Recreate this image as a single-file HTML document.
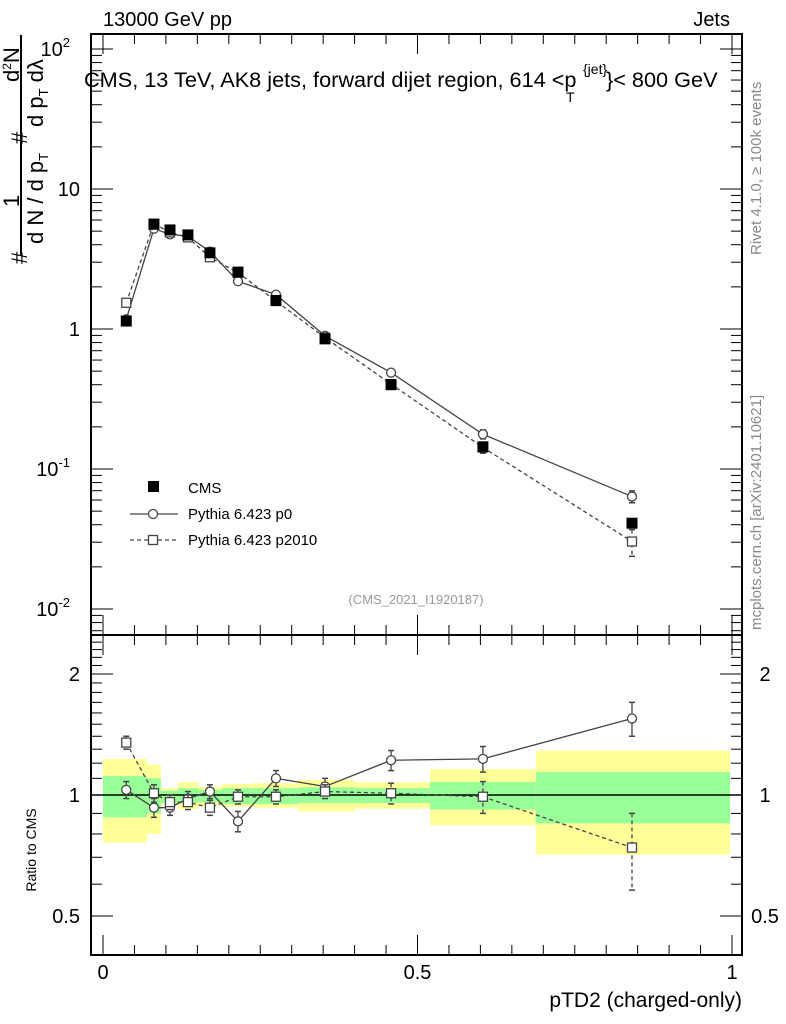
<!DOCTYPE html>
<html><head><meta charset="utf-8"><style>
body{margin:0;background:#fff;}
svg{display:block;font-family:"Liberation Sans",sans-serif;}
</style></head><body>
<svg id="c" width="786" height="1024" viewBox="0 0 786 1024">
<g id="bands"></g>
<g id="axes"></g>
<g id="marks"></g>
<text x="103" y="26" font-size="20">13000 GeV pp</text>
<text x="730" y="26" font-size="20" text-anchor="end">Jets</text>
<text x="84" y="87" font-size="21.7">CMS, 13 TeV, AK8 jets, forward dijet region, 614 &lt;p<tspan x="583" y="74" font-size="14">{jet}</tspan><tspan x="566" y="102" font-size="14">T</tspan><tspan x="606" y="87">}&lt; 800 GeV</tspan></text>
<text x="416" y="604" font-size="13" fill="#999" text-anchor="middle">(CMS_2021_I1920187)</text>
<text transform="translate(761,255) rotate(-90)" font-size="15" fill="#888">Rivet 4.1.0, ≥ 100k events</text>
<text transform="translate(761,630) rotate(-90)" font-size="15" fill="#888">mcplots.cern.ch [arXiv:2401.10621]</text>
<g font-size="22">
<text transform="translate(27,264) rotate(-90)">#</text>
<text transform="translate(19,207) rotate(-90)">1</text>
<line x1="21" y1="256" x2="21" y2="35" stroke="#000" stroke-width="2"/>
<text transform="translate(43,244) rotate(-90)">d N / d p<tspan font-size="13" dy="5">T</tspan></text>
<text transform="translate(27,144) rotate(-90)">#</text>
<text transform="translate(43,127) rotate(-90)">d p<tspan font-size="13" dy="5">T</tspan><tspan dy="-5"> dλ</tspan></text>
<text transform="translate(19,82) rotate(-90)">d<tspan font-size="12" dy="-8">2</tspan><tspan dy="8">N</tspan></text>
</g>
<text transform="translate(36,850) rotate(-90)" font-size="14" text-anchor="middle">Ratio to CMS</text>
<text x="742" y="1007" font-size="21" text-anchor="end">pTD2 (charged-only)</text>
<g font-size="15">
<rect x="148" y="481" width="11" height="11" fill="#000"/>
<text x="188" y="493">CMS</text>
<line x1="130" y1="514" x2="178" y2="514" stroke="#444" stroke-width="1.3"/>
<circle cx="153" cy="514" r="4.5" fill="#fff" stroke="#444" stroke-width="1.3"/>
<text x="188" y="519">Pythia 6.423 p0</text>
<line x1="130" y1="540" x2="178" y2="540" stroke="#444" stroke-width="1.3" stroke-dasharray="4,3"/>
<rect x="148.5" y="535.5" width="9" height="9" fill="#fff" stroke="#444" stroke-width="1.3"/>
<text x="188" y="545">Pythia 6.423 p2010</text>
</g>
</svg>
<script>
const xVals=[0.037,0.081,0.1065,0.135,0.170,0.2146,0.275,0.353,0.458,0.604,0.841];
const binEdges=[0,0.07,0.092,0.119,0.152,0.189,0.24,0.31,0.40,0.52,0.688,0.997];
const cmsVals=[1.14,5.6,5.1,4.7,3.5,2.55,1.6,0.85,0.40,0.144,0.041];
const p0Ratio=[1.03,0.93,0.93,0.98,1.02,0.86,1.1,1.05,1.22,1.23,1.55];
const p0Err=[0.05,0.05,0.04,0.04,0.04,0.05,0.05,0.05,0.07,0.09,0.15];
const p2010Ratio=[1.35,1.01,0.96,0.96,0.93,0.99,0.99,1.02,1.01,0.99,0.74];
const p2010Err=[0.05,0.05,0.04,0.04,0.04,0.04,0.04,0.04,0.06,0.09,0.16];
const yellowHi=[1.23,1.19,1.04,1.077,1.047,1.065,1.07,1.09,1.075,1.16,1.29];
const yellowLo=[0.76,0.80,0.945,0.923,0.94,0.935,0.93,0.91,0.925,0.84,0.71];
const greenHi=[1.115,1.10,1.025,1.04,1.03,1.04,1.04,1.045,1.04,1.077,1.14];
const greenLo=[0.88,0.90,0.955,0.955,0.96,0.95,0.95,0.955,0.955,0.92,0.85];
const mainTicks=[0.01,0.1,1,10,100];
const mainTickLabels=["10","10","1","10","10"];
const mainTickExp=["-2","-1","","","2"];
const ratioTicks=[0.5,1,2];
const xTicks=[0,0.5,1];
const xTickLabels=["0","0.5","1"];

const NS="http://www.w3.org/2000/svg";
const L=91,R=742,T=34,MB=635,RB=955;
const X=v=>103+629*v;
const Y=v=>329-140*Math.log10(v);
const YR=v=>795-402*Math.log10(v);
function mk(tag,attrs,parent){const e=document.createElementNS(NS,tag);for(const k in attrs)e.setAttribute(k,attrs[k]);parent.appendChild(e);return e;}
const bands=document.getElementById('bands'),axes=document.getElementById('axes'),marks=document.getElementById('marks');

for(let i=0;i<yellowHi.length;i++){
 const y=mk('rect',{x:X(binEdges[i]),y:YR(yellowHi[i]),width:X(binEdges[i+1])-X(binEdges[i]),height:YR(yellowLo[i])-YR(yellowHi[i]),fill:'#ffff99'},bands);
 
 
 const g=mk('rect',{x:X(binEdges[i]),y:YR(greenHi[i]),width:X(binEdges[i+1])-X(binEdges[i]),height:YR(greenLo[i])-YR(greenHi[i]),fill:'#99ff99'},bands);
 
 
}
mk('rect',{x:L,y:T,width:R-L,height:MB-T,fill:'none',stroke:'#000','stroke-width':2},axes);
mk('rect',{x:L,y:MB,width:R-L,height:RB-MB,fill:'none',stroke:'#000','stroke-width':2},axes);
mk('line',{x1:L,y1:YR(1),x2:R,y2:YR(1),stroke:'#000','stroke-width':1.5},axes);
for(let d=-3;d<=2;d++){for(let m=1;m<10;m++){const v=m*Math.pow(10,d),y=Y(v);if(y<T||y>MB)continue;const len=m==1?22:11;
 mk('line',{x1:L,y1:y,x2:L+len,y2:y,stroke:'#000'},axes);mk('line',{x1:R,y1:y,x2:R-len,y2:y,stroke:'#000'},axes);}}
mainTicks.forEach((v,i)=>{const t=mk('text',{x:mainTickExp[i]?70:80,y:Y(v)+7,'font-size':20,'text-anchor':'end'},axes);t.textContent=mainTickLabels[i];
 if(mainTickExp[i]){const s=mk('tspan',{dy:-9,'font-size':13},t);s.textContent=mainTickExp[i];}
 });
for(let v=0.4;v<=2.6;v+=0.1){const y=YR(v);if(y<MB||y>RB)continue;const major=Math.abs(v-0.5)<1e-6||Math.abs(v-1)<1e-6||Math.abs(v-2)<1e-6;const len=major?22:11;
 mk('line',{x1:L,y1:y,x2:L+len,y2:y,stroke:'#000'},axes);mk('line',{x1:R,y1:y,x2:R-len,y2:y,stroke:'#000'},axes);}
ratioTicks.forEach(v=>{[[80,'end'],[765,'middle']].forEach(p=>{const t=mk('text',{x:p[0],y:YR(v)+7,'font-size':20,'text-anchor':p[1]},axes);t.textContent=String(v);
 });});
for(let v=0;v<=1.0001;v+=0.05){const x=X(v);const major=Math.abs(v*2-Math.round(v*2))<1e-6;const len=major?20:10;
 [[T,1],[MB,-1],[MB,1],[RB,-1]].forEach(p=>mk('line',{x1:x,y1:p[0],x2:x,y2:p[0]+p[1]*len,stroke:'#000'},axes));}
xTicks.forEach((v,i)=>{const t=mk('text',{x:X(v),y:979,'font-size':20,'text-anchor':'middle'},axes);t.textContent=xTickLabels[i];
 });

function series(vals,errs,yf,dash,shape,name){
 const pts=vals.map((v,i)=>X(xVals[i])+','+yf(v)).join(' ');
 const pl=mk('polyline',{points:pts,fill:'none',stroke:'#444','stroke-width':1.3,'stroke-dasharray':dash},marks);
 
 vals.forEach((v,i)=>{const x=X(xVals[i]);
  if(errs){const y1=yf(v+errs[i]),y2=yf(Math.max(v-errs[i],0.01));
   mk('line',{x1:x,y1:y1,x2:x,y2:y2,stroke:'#444','stroke-width':1.3,'stroke-dasharray':dash},marks);
   mk('line',{x1:x-3,y1:y1,x2:x+3,y2:y1,stroke:'#444','stroke-width':1.5},marks);
   mk('line',{x1:x-3,y1:y2,x2:x+3,y2:y2,stroke:'#444','stroke-width':1.5},marks);}
  let m;
  if(shape=='c')m=mk('circle',{cx:x,cy:yf(v),r:4.5,fill:'#fff',stroke:'#444','stroke-width':1.3},marks);
  else m=mk('rect',{x:x-4.5,y:yf(v)-4.5,width:9,height:9,fill:'#fff',stroke:'#444','stroke-width':1.3},marks);
  });
}
const p0Main=cmsVals.map((v,i)=>v*p0Ratio[i]);
const p0MainErr=cmsVals.map((v,i)=>v*p0Err[i]);
const p2Main=cmsVals.map((v,i)=>v*p2010Ratio[i]);
const p2MainErr=cmsVals.map((v,i)=>v*p2010Err[i]);
series(p0Main,p0MainErr,Y,'none','c','p0-main');
series(p2Main,p2MainErr,Y,'4,3','s','p2010-main');
cmsVals.forEach((v,i)=>{const r=mk('rect',{x:X(xVals[i])-5.5,y:Y(v)-5.5,width:11,height:11,fill:'#000'},marks);
 });
series(p0Ratio,p0Err,YR,'none','c','p0-ratio');
series(p2010Ratio,p2010Err,YR,'4,3','s','p2010-ratio');
</script>
</body></html>
